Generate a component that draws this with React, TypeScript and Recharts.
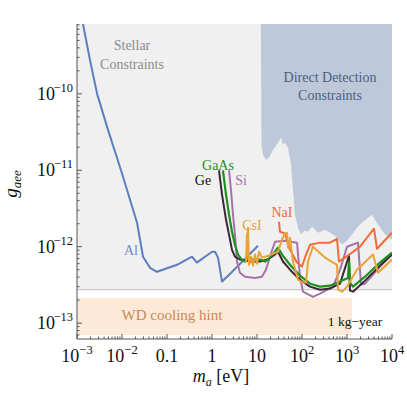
import React from 'react'
import { ComposedChart, Line, Area, XAxis, YAxis } from 'recharts'

const X_DOMAIN = [1e-3, 1e4]
const Y_DOMAIN = [6.2e-14, 8.2e-10]

// tick labels
const xMajorTicks = [1e-3, 1e-2, 0.1, 1, 10, 100, 1000, 10000]
const xTickBase = ['10', '10', '0.1', '1', '10', '10', '10', '10']
const xTickExp = ['−3', '−2', '', '', '', '2', '3', '4']
const yMajorTicks = [1e-13, 1e-12, 1e-11, 1e-10]
const yTickExp = ['−13', '−12', '−11', '−10']

// shaded regions
const stellarLimit = 2.75e-13
const wdMass = [1e-3, 1290]
const wdLow = 7e-14
const wdHigh = 2.15e-13

const ddMass = [12.2, 12.6, 13.6, 15.8, 18.5, 22.7, 29.3, 34.1, 37.8, 41.9, 48.9, 57, 63.1, 69.9, 81.5, 95, 111, 136, 167, 227, 324, 541, 774, 1000, 1292, 1668, 2270, 3594, 4887, 6988, 10000]
const ddLower = [8.2e-10, 2.15e-11, 1.6e-11, 1.37e-11, 1.46e-11, 1.85e-11, 2.29e-11, 2.66e-11, 2.15e-11, 2.29e-11, 1.97e-11, 1.18e-11, 5.56e-12, 2.62e-12, 1.77e-12, 1.44e-12, 1.62e-12, 1.57e-12, 1.82e-12, 1.52e-12, 1.67e-12, 1.39e-12, 1.06e-12, 1.2e-12, 1.44e-12, 1.77e-12, 2.12e-12, 2.62e-12, 1.94e-12, 1.44e-12, 1.24e-12]

// detector curves
const alMass = [1.36e-3, 1.94e-3, 2.8e-3, 4.89e-3, 9.5e-3, 0.0216, 0.0293, 0.042, 0.06, 0.167, 0.36, 0.46, 1.0, 1.17, 1.36, 1.67, 2.5, 10.5]
const alG = [8.2e-10, 2.78e-10, 1e-10, 3.38e-11, 1e-11, 2.06e-12, 7.4e-13, 5.3e-13, 4.7e-13, 5.8e-13, 7.4e-13, 6.2e-13, 8.6e-13, 8.6e-13, 7.2e-13, 3.5e-13, 4.4e-13, 1.03e-12]

const geMass = [1.43, 1.67, 2.05, 2.39, 2.78, 3.24, 4.19, 6.99, 11.7, 17.5, 25.1, 29.3, 37.8, 54.1, 90.3, 151, 251, 419, 699, 1107, 1166, 1360, 2512, 5408, 10000]
const geG = [1e-11, 4.8e-12, 2.25e-12, 1.44e-12, 9.1e-13, 7.4e-13, 6.8e-13, 6.4e-13, 6.4e-13, 6.8e-13, 7.9e-13, 8.6e-13, 6.4e-13, 5.0e-13, 3.7e-13, 3.0e-13, 2.74e-13, 2.83e-13, 3.28e-13, 7.6e-13, 2.66e-13, 2.58e-13, 3.6e-13, 5.65e-13, 7.9e-13]

const gaasMass = [1.75, 2.05, 2.39, 2.78, 3.24, 3.78, 4.41, 5.41, 6.99, 9.03, 11.7, 15.1, 19.4, 25.1, 29.3, 37.8, 54.1, 90.3, 151, 251, 419, 699, 1052, 1107, 1166, 1360, 2512, 5408, 10000]
const gaasG = [1e-11, 4.8e-12, 2.62e-12, 1.57e-12, 1.06e-12, 7.9e-13, 6.97e-13, 6.4e-13, 7.2e-13, 6.4e-13, 6.8e-13, 6.4e-13, 7.2e-13, 8.6e-13, 9.7e-13, 7.6e-13, 5.8e-13, 4.18e-13, 3.28e-13, 3.0e-13, 3.09e-13, 3.5e-13, 3.9e-13, 6.4e-13, 3.4e-13, 3.0e-13, 4.05e-13, 6.2e-13, 8.4e-13]

const siMass = [2.39, 2.64, 2.93, 3.24, 3.59, 4.19, 5.41, 9.03, 12.9, 15.8, 19.4, 25.1, 41.9, 77.4, 90.3, 105, 175, 251, 489, 699, 1000, 1754, 2048, 2512, 5408, 10000]
const siG = [1e-11, 5.56e-12, 2.62e-12, 1.44e-12, 6.4e-13, 4.57e-13, 4.05e-13, 3.9e-13, 4.05e-13, 5.0e-13, 7.4e-13, 1.16e-12, 1.2e-12, 1.13e-12, 4.05e-13, 2.58e-13, 2.2e-13, 2.43e-13, 3.0e-13, 5.0e-13, 1.0e-12, 1.13e-12, 3.2e-13, 3.28e-13, 5.5e-13, 8.1e-13]

const csiMass = [6.0, 5.7, 6.0, 6.31, 6.64, 7.36, 8.15, 9.03, 10.0, 11.1, 12.9, 17.5, 29.3, 35.9, 41.9, 46.4, 48.9, 54.1, 63.1, 81.5, 105, 123, 136, 175, 324, 600, 631, 774, 1000, 1668, 3784, 4887, 10000]
const csiG = [1.52e-12, 6.4e-13, 8.6e-13, 1.77e-12, 5.8e-13, 7.4e-13, 5.65e-13, 7.9e-13, 6.0e-13, 8.6e-13, 7.2e-13, 7.6e-13, 8.6e-13, 1.24e-12, 1.48e-12, 1.52e-12, 9.7e-13, 1.31e-12, 6.4e-13, 3.7e-13, 3.4e-13, 3.4e-13, 6.4e-13, 1.0e-12, 7.2e-13, 5.8e-13, 2.74e-13, 2.58e-13, 3.0e-13, 5.0e-13, 7.9e-13, 4.57e-13, 6.8e-13]

const naiMass = [30.8, 32.4, 41.9, 54.1, 77.4, 100, 123, 151, 251, 419, 600, 664, 903, 1945, 3981, 4642, 10000]
const naiG = [2.12e-12, 1.57e-12, 1.48e-12, 9.1e-13, 6.2e-13, 5.5e-13, 7.9e-13, 1.06e-12, 1.13e-12, 1.13e-12, 1.27e-12, 6.4e-13, 7.2e-13, 1.0e-12, 1.72e-12, 9.4e-13, 1.52e-12]

const AXIS = '#555'
const FONT = '"Liberation Serif", "Times New Roman", serif'

const minorTicks = (lo: number, hi: number) => {
  const out: number[] = []
  for (let e = Math.floor(Math.log10(lo)); e <= Math.ceil(Math.log10(hi)); e++) {
    for (let m = 2; m <= 9; m++) {
      const v = m * Math.pow(10, e)
      if (v > lo && v < hi) out.push(v)
    }
  }
  return out
}

const xTicks = [...xMajorTicks, ...minorTicks(X_DOMAIN[0], X_DOMAIN[1])]
const yTicks = [...yMajorTicks, ...minorTicks(Y_DOMAIN[0], Y_DOMAIN[1])]

const majorIndex = (list: number[], v: number) =>
  list.findIndex((t) => Math.abs(Math.log10(t) - Math.log10(v)) < 1e-6)

const zip = (xs: number[], ys: number[]) => xs.map((x, i) => ({ x, y: ys[i] }))

const XTick = (props: any) => {
  const { x, y, payload, top } = props
  const i = majorIndex(xMajorTicks, payload.value)
  const len = i >= 0 ? 5 : 2.5
  const dir = top ? 1 : -1
  return (
    <g>
      <line x1={x} x2={x} y1={y} y2={y + dir * len} stroke={AXIS} strokeWidth={1} />
      {!top && i >= 0 && (
        <text x={x} y={y + 23} textAnchor="middle" fontFamily={FONT} fontSize={18} fill="#111">
          {xTickBase[i]}
          {xTickExp[i] && (
            <tspan dy={-8} fontSize={12.5}>
              {xTickExp[i]}
            </tspan>
          )}
        </text>
      )}
    </g>
  )
}

const YTick = (props: any) => {
  const { x, y, payload, right } = props
  const i = majorIndex(yMajorTicks, payload.value)
  const len = i >= 0 ? 5 : 2.5
  const dir = right ? -1 : 1
  return (
    <g>
      <line x1={x} x2={x + dir * len} y1={y} y2={y} stroke={AXIS} strokeWidth={1} />
      {!right && i >= 0 && (
        <text x={x - 22} y={y + 6} textAnchor="end" fontFamily={FONT} fontSize={18} fill="#111">
          10
          <tspan x={x - 4} dy={-8} fontSize={12.5} textAnchor="end">
            {yTickExp[i]}
          </tspan>
        </text>
      )}
    </g>
  )
}

const curve = (key: string, xs: number[], ys: number[], color: string, width = 2) => (
  <Line
    key={key}
    data={zip(xs, ys)}
    dataKey="y"
    type="linear"
    stroke={color}
    strokeWidth={width}
    strokeLinejoin="round"
    dot={false}
    activeDot={false}
    isAnimationActive={false}
  />
)

const label = (text: string, x: number, y: number, color: string, size = 14) => (
  <text x={x} y={y} textAnchor="middle" fontFamily={FONT} fontSize={size} fill={color}>
    {text}
  </text>
)

export default function App() {
  const stellar = X_DOMAIN.map((x) => ({ x, band: [stellarLimit, Y_DOMAIN[1]] }))
  const wd = wdMass.map((x) => ({ x, band: [wdLow, wdHigh] }))
  const dd = ddMass.map((x, i) => ({ x, band: [ddLower[i], Y_DOMAIN[1]] }))
  const stellarEdge = X_DOMAIN.map((x) => ({ x, y: stellarLimit }))

  return (
    <div style={{ position: 'absolute', left: 8, top: 8, width: 399, height: 387 }}>
      <ComposedChart width={399} height={387} margin={{ top: 16, right: 15, bottom: 16, left: 9 }}>
        <XAxis
          xAxisId={0}
          dataKey="x"
          type="number"
          scale="log"
          domain={X_DOMAIN}
          allowDataOverflow
          ticks={xTicks}
          interval={0}
          tickSize={0}
          tickMargin={0}
          tickLine={false}
          axisLine={{ stroke: AXIS }}
          tick={<XTick />}
          height={40}
        />
        <XAxis
          xAxisId="top"
          orientation="top"
          dataKey="x"
          type="number"
          scale="log"
          domain={X_DOMAIN}
          allowDataOverflow
          ticks={xTicks}
          interval={0}
          tickSize={0}
          tickMargin={0}
          tickLine={false}
          axisLine={{ stroke: AXIS }}
          tick={<XTick top />}
          height={0}
        />
        <YAxis
          yAxisId={0}
          type="number"
          scale="log"
          domain={Y_DOMAIN}
          allowDataOverflow
          ticks={yTicks}
          interval={0}
          tickSize={0}
          tickMargin={0}
          tickLine={false}
          axisLine={{ stroke: AXIS }}
          tick={<YTick />}
          width={60}
        />
        <YAxis
          yAxisId="right"
          orientation="right"
          type="number"
          scale="log"
          domain={Y_DOMAIN}
          allowDataOverflow
          ticks={yTicks}
          interval={0}
          tickSize={0}
          tickMargin={0}
          tickLine={false}
          axisLine={{ stroke: AXIS }}
          tick={<YTick right />}
          width={0}
        />
        <Area data={stellar} dataKey="band" type="linear" fill="#f0f0f0" fillOpacity={1} stroke="none" isAnimationActive={false} />
        <Line data={stellarEdge} dataKey="y" stroke="#c8c8c8" strokeWidth={1.2} dot={false} activeDot={false} isAnimationActive={false} />
        <Area data={wd} dataKey="band" type="linear" fill="#fde9d8" fillOpacity={1} stroke="none" isAnimationActive={false} />
        <Area data={dd} dataKey="band" type="linear" fill="#bdc8da" fillOpacity={1} stroke="none" isAnimationActive={false} />
        {curve('al', alMass, alG, '#5b7fbd')}
        {curve('si', siMass, siG, '#a673a8')}
        {curve('ge', geMass, geG, '#3a2636')}
        {curve('gaas', gaasMass, gaasG, '#1f8f1f', 2.2)}
        {curve('nai', naiMass, naiG, '#f26b3a')}
        {curve('csi', csiMass, csiG, '#eba236')}
      </ComposedChart>
      <svg width={399} height={387} style={{ position: 'absolute', left: 0, top: 0, pointerEvents: 'none', overflow: 'visible' }}>
        {label('Stellar', 124, 42, '#8c8c8c')}
        {label('Constraints', 124, 61, '#8c8c8c')}
        {label('Direct Detection', 322, 74, '#4d5f80')}
        {label('Constraints', 322, 92, '#4d5f80')}
        {label('GaAs', 210, 162, '#1f8f1f')}
        {label('Ge', 195, 177, '#111')}
        {label('Si', 233, 177, '#a673a8')}
        {label('CsI', 244, 222, '#eba236')}
        {label('NaI', 274, 209, '#f26b3a')}
        {label('Al', 123, 247, '#6a8cc6')}
        {label('WD cooling hint', 164, 312, '#c98a52', 15)}
        {label('1 kg−year', 347, 318, '#111', 13.5)}
        <text x={213} y={374} textAnchor="middle" fontFamily={FONT} fontSize={18} fill="#111">
          <tspan fontStyle="italic">m</tspan>
          <tspan fontStyle="italic" fontSize={12} dy={4}>a</tspan>
          <tspan dy={-4}> [eV]</tspan>
        </text>
        <text x={9} y={176} transform="rotate(-90, 9, 176)" textAnchor="middle" fontFamily={FONT} fontSize={19} fill="#111">
          <tspan fontStyle="italic">g</tspan>
          <tspan fontStyle="italic" fontSize={13} dy={4}>aee</tspan>
        </text>
      </svg>
    </div>
  )
}
